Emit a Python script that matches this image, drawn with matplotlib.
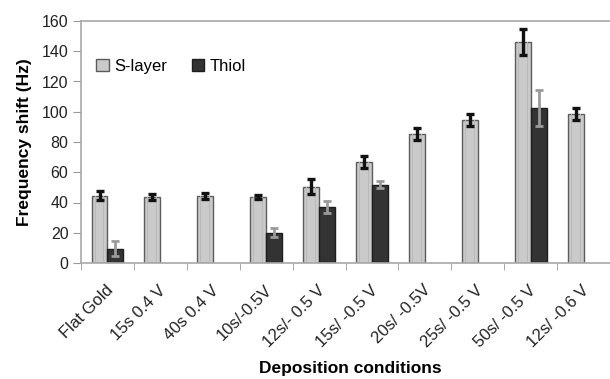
import matplotlib
matplotlib.use("Agg")
import matplotlib.pyplot as plt
import matplotlib.transforms as mtransforms
import numpy as np

plt.rcParams['font.family'] = ['Liberation Sans', 'DejaVu Sans']

conditions = ["Flat Gold", "15s 0.4 V", "40s 0.4 V", "10s/-0.5V", "12s/- 0.5 V",
              "15s/ -0.5 V", "20s/ -0.5V", "25s/ -0.5 V", "50s/ -0.5 V", "12s/ -0.6 V"]
slayer = [44.5, 43.5, 44.2, 43.5, 50.5, 66.8, 85.2, 94.5, 146.0, 98.8]
slayer_err = [3.0, 2.0, 2.0, 1.5, 5.0, 4.2, 4.0, 4.0, 8.5, 4.0]
thiol = [9.5, np.nan, np.nan, 20.0, 37.0, 51.8, np.nan, np.nan, 102.5, np.nan]
thiol_err = [5.0, np.nan, np.nan, 3.0, 4.0, 2.5, np.nan, np.nan, 12.0, np.nan]
yticks = [0, 20, 40, 60, 80, 100, 120, 140, 160]

fig = plt.figure(figsize=(6.10, 3.79), dpi=100)
W, H = 610, 379
ax = fig.add_axes([81 / W, (H - 263) / H, (610 - 81) / W, (263 - 21) / H])

x = np.arange(len(conditions))
bw = 0.30
xs = x - bw / 2
xt = x + bw / 2

ax.bar(xs, slayer, width=bw, color="#cacaca", edgecolor="#5c5c5c",
       linewidth=1.0, label="S-layer", zorder=2)
# subtle shading stripes inside the light bars
for off in (-bw * 0.28, bw * 0.28):
    ax.bar(xs + off, slayer, width=bw * 0.06, color="#b9b9b9",
           linewidth=0, zorder=2.1)
ax.bar(xt, thiol, width=bw, color="#333333", edgecolor="#1e1e1e",
       linewidth=1.0, label="Thiol", zorder=2)

ax.errorbar(xs, slayer, yerr=slayer_err, fmt="none", ecolor="#111111",
            elinewidth=2.4, capsize=3.2, capthick=2.4, zorder=3)
ax.errorbar(xt, thiol, yerr=thiol_err, fmt="none", ecolor="#9a9a9a",
            elinewidth=2.0, capsize=3.2, capthick=2.0, zorder=3)

ax.set_xlim(-0.5, len(conditions) - 0.5)
ax.set_ylim(0, 160)
ax.set_yticks(yticks)
ax.set_yticklabels([str(v) for v in yticks], fontsize=11.5, color="#222222")

ax.set_xticks(x)
ax.set_xticklabels(conditions, rotation=45, ha="right", va="top",
                   rotation_mode="anchor", fontsize=12, color="#222222")
ax.tick_params(axis="x", length=0, pad=14)
shift = mtransforms.ScaledTranslation(-2 / 100, 0, fig.dpi_scale_trans)
for lbl in ax.get_xticklabels():
    lbl.set_transform(lbl.get_transform() + shift)
ax.set_xticks(np.arange(len(conditions) + 1) - 0.5, minor=True)
ax.tick_params(axis="x", which="minor", length=5, color="#999999", direction="out")
ax.tick_params(axis="y", length=6, color="#999999", direction="out", pad=3)

for s in ("left", "bottom", "top"):
    ax.spines[s].set_color("#a8a8a8")
    ax.spines[s].set_linewidth(1.2)
ax.spines["right"].set_visible(False)

ax.set_ylabel("Frequency shift (Hz)", fontsize=12.5, fontweight="bold", labelpad=7)
ax.set_xlabel("Deposition conditions", fontsize=12.5, fontweight="bold")
ax.xaxis.set_label_coords((350 - 81) / 529, (263 - 368) / 242)
ax.xaxis.label.set_verticalalignment("center")

ax.legend(loc="upper left", bbox_to_anchor=(0.01, 0.885), ncol=2, frameon=False,
          fontsize=12, handlelength=0.75, handleheight=0.75, handletextpad=0.3,
          columnspacing=1.5, borderaxespad=0.2)

fig.savefig("out.png", dpi=100)
